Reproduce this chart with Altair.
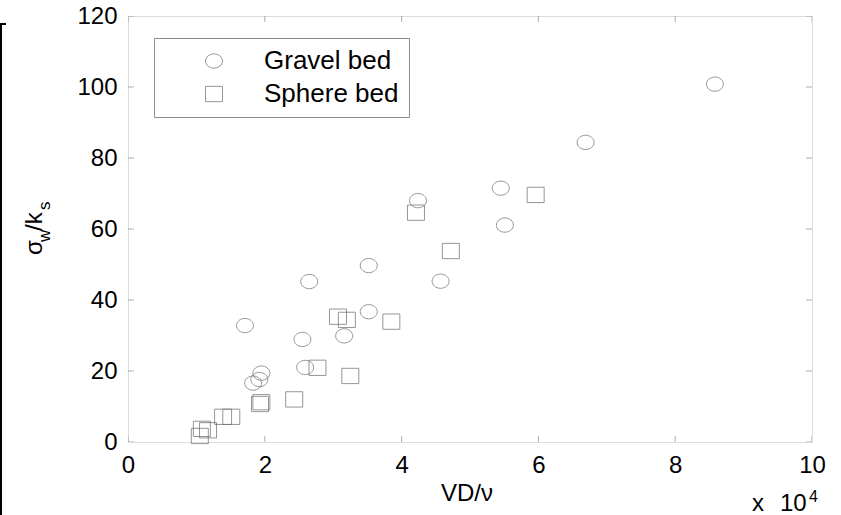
import altair as alt
import pandas as pd

# ---- data (x in units of VD/nu, axis shows x 10^4) ----
series_names = ["Gravel bed", "Sphere bed"]
gravel_x = [17100, 18300, 19200, 19500, 25500, 25900, 26500, 31600, 35200, 35200,
            42400, 45700, 54500, 55100, 66900, 85800]
gravel_y = [32.8, 16.6, 17.6, 19.4, 28.9, 21.0, 45.2, 29.9, 49.7, 36.7,
            68.0, 45.3, 71.5, 61.1, 84.4, 100.8]
sphere_x = [10500, 10800, 11700, 13900, 15100, 19300, 19500, 24300, 27700, 30700,
            32000, 32500, 38500, 42100, 47200, 59600]
sphere_y = [1.7, 3.7, 3.3, 7.1, 7.1, 10.7, 11.2, 12.0, 20.9, 35.3,
            34.4, 18.6, 33.9, 64.6, 53.8, 69.6]
x_ticks = [0, 20000, 40000, 60000, 80000, 100000]
y_ticks = [0, 20, 40, 60, 80, 100, 120]

df = pd.DataFrame({
    "x": gravel_x + sphere_x,
    "y": gravel_y + sphere_y,
    "bed": [series_names[0]] * len(gravel_x) + [series_names[1]] * len(sphere_x),
})

FONT = "Liberation Sans"
FRAME = "#8c8c8c"
MARK = "#6a6a6a"
ELLIPSE = "M-1,0A1,0.84,0,1,1,1,0A1,0.84,0,1,1,-1,0Z"
RECT = "M-1,-0.9L1,-0.9L1,0.9L-1,0.9Z"

xscale = alt.Scale(domain=[0, 100000], nice=False, zero=False)
yscale = alt.Scale(domain=[0, 120], nice=False)
xaxis = alt.Axis(values=x_ticks, labelExpr="datum.value / 10000", title=None,
                 domain=False, ticks=False, grid=False, labelFontSize=24,
                 labelFont=FONT, labelColor="black", labelPadding=11,
                 labelFlush=False, labelOverlap=False)
yaxis = alt.Axis(values=y_ticks, title=None, domain=False, ticks=False, grid=False,
                 labelFontSize=24, labelFont=FONT, labelColor="black", labelPadding=11,
                 labelFlush=False, labelOverlap=False)

points = alt.Chart(df).mark_point(filled=False, size=289, strokeWidth=1, color=MARK).encode(
    x=alt.X("x:Q", scale=xscale, axis=xaxis),
    y=alt.Y("y:Q", scale=yscale, axis=yaxis),
    shape=alt.Shape("bed:N", scale=alt.Scale(domain=series_names, range=[ELLIPSE, RECT]),
                    legend=alt.Legend(title=None, orient="none", legendX=26, legendY=22,
                                      padding=10, strokeColor=FRAME, fillColor="white",
                                      labelFontSize=26, labelFont=FONT, labelColor="black",
                                      symbolSize=289, symbolStrokeWidth=1,
                                      symbolStrokeColor=MARK, symbolFillColor="transparent",
                                      rowPadding=7, symbolOffset=37, labelOffset=37)),
)

# inward tick marks on all four edges
vt = pd.DataFrame({"x": x_ticks * 2, "y": [0] * len(x_ticks) + [120] * len(x_ticks)})
ht = pd.DataFrame({"y": y_ticks * 2, "x": [0] * len(y_ticks) + [100000] * len(y_ticks)})
vticks = alt.Chart(vt).mark_tick(orient="vertical", size=12, thickness=1, color=FRAME, clip=True).encode(
    x=alt.X("x:Q", scale=xscale, axis=xaxis), y=alt.Y("y:Q", scale=yscale, axis=yaxis))
hticks = alt.Chart(ht).mark_tick(orient="horizontal", size=12, thickness=1, color=FRAME, clip=True).encode(
    x=alt.X("x:Q", scale=xscale, axis=xaxis), y=alt.Y("y:Q", scale=yscale, axis=yaxis))

one = pd.DataFrame({"d": [0]})


def txt(s, x, y, size, angle=0, align="left", baseline="alphabetic"):
    return alt.Chart(one).mark_text(text=s, font=FONT, fontSize=size, color="black",
                                    angle=angle, align=align, baseline=baseline).encode(
        x=alt.value(x), y=alt.value(y))


texts = [
    # y title: sigma_w / k_s (rotated)
    txt("σ", -86, 239, 24, angle=270),
    txt("w", -78, 226, 17, angle=270),
    txt("/k", -86, 215, 24, angle=270),
    txt("s", -78, 194, 17, angle=270),
    # x title
    txt("VD/ν", 339, 485, 24, align="center"),
    # multiplier
    txt("x", 624, 495, 24),
    txt("10", 652, 495, 24),
    txt("4", 681, 486, 16),
]

edge = alt.Chart(one).mark_rule(color="black", strokeWidth=2).encode(
    x=alt.value(-127), y=alt.value(7), y2=alt.value(499))
edge2 = alt.Chart(one).mark_rule(color="black", strokeWidth=2).encode(
    x=alt.value(-128), x2=alt.value(-122), y=alt.value(8))

chart = alt.layer(points, vticks, hticks, edge, edge2, *texts).properties(
    width=684, height=426,
    autosize=alt.AutoSizeParams(type="none"),
    padding={"left": 128, "top": 16, "right": 29, "bottom": 73},
).configure_view(stroke=FRAME, strokeWidth=1).configure(background="white")

chart.save("out.html", embed_options={"renderer": "svg", "actions": False})
